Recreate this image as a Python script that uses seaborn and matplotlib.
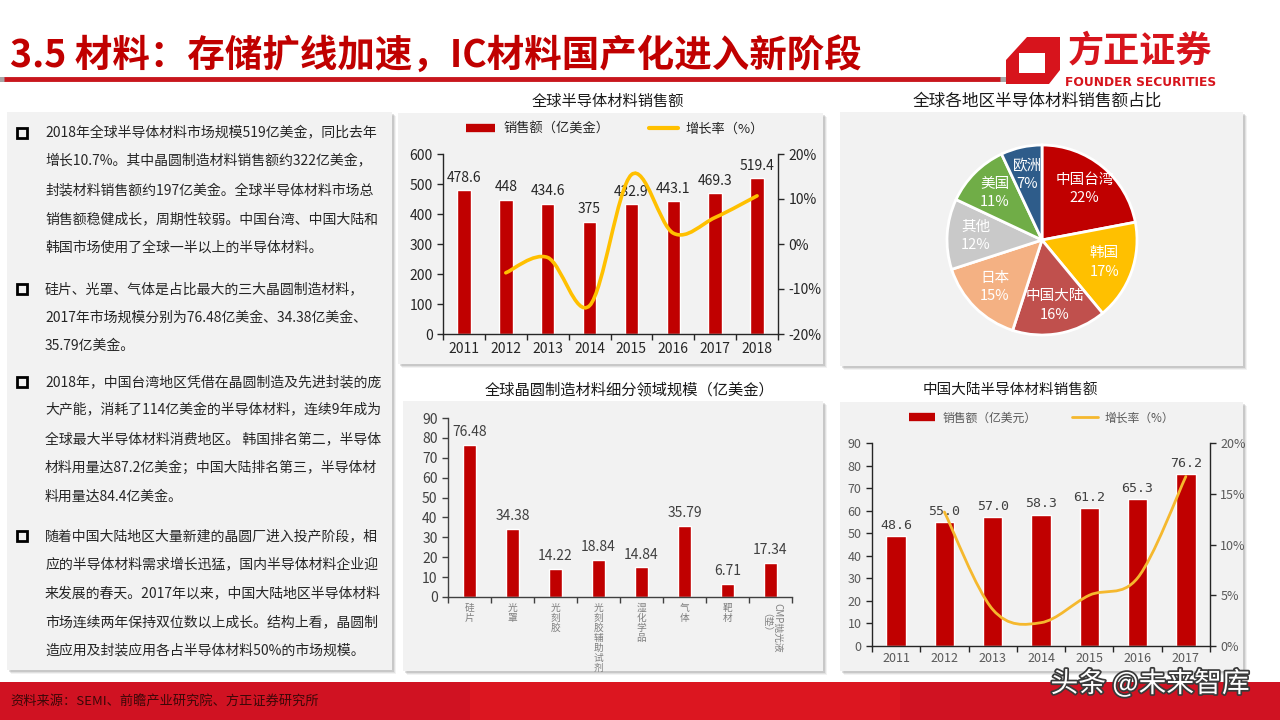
import numpy as np
import pandas as pd
import seaborn as sns
import matplotlib.pyplot as plt
import matplotlib.patheffects as pe
from matplotlib.patches import Rectangle, Polygon, PathPatch
from matplotlib.path import Path
from matplotlib.lines import Line2D
from matplotlib.ticker import FuncFormatter

# ---- data ----
years_global = ['2011', '2012', '2013', '2014', '2015', '2016', '2017', '2018']
sales_global = [478.6, 448, 434.6, 375, 432.9, 443.1, 469.3, 519.4]
growth_global = [-6.4, -3.0, -13.7, 15.4, 2.4, 5.9, 10.7]   # 2012-2018, %

regions = ['中国台湾', '韩国', '中国大陆', '日本', '其他', '美国', '欧洲']
region_share = [22, 17, 16, 15, 12, 11, 7]

wafer_items = ['硅片', '光罩', '光刻胶', '光刻胶辅助试剂', '湿化学品', '气体', '靶材', 'CMP抛光液（垫）']
wafer_values = [76.48, 34.38, 14.22, 18.84, 14.84, 35.79, 6.71, 17.34]

years_cn = ['2011', '2012', '2013', '2014', '2015', '2016', '2017']
sales_cn = [48.6, 55.0, 57.0, 58.3, 61.2, 65.3, 76.2]
growth_cn = [13.2, 3.6, 2.3, 5.0, 6.7, 16.7]   # 2012-2017, %

bullets = [
    ['2018年全球半导体材料市场规模519亿美金，同比去年',
     '增长10.7%。其中晶圆制造材料销售额约322亿美金，',
     '封装材料销售额约197亿美金。全球半导体材料市场总',
     '销售额稳健成长，周期性较弱。中国台湾、中国大陆和',
     '韩国市场使用了全球一半以上的半导体材料。'],
    ['硅片、光罩、气体是占比最大的三大晶圆制造材料，',
     '2017年市场规模分别为76.48亿美金、34.38亿美金、',
     '35.79亿美金。'],
    ['2018年，中国台湾地区凭借在晶圆制造及先进封装的庞',
     '大产能，消耗了114亿美金的半导体材料，连续9年成为',
     '全球最大半导体材料消费地区。 韩国排名第二，半导体',
     '材料用量达87.2亿美金；中国大陆排名第三，半导体材',
     '料用量达84.4亿美金。'],
    ['随着中国大陆地区大量新建的晶圆厂进入投产阶段，相',
     '应的半导体材料需求增长迅猛，国内半导体材料企业迎',
     '来发展的春天。2017年以来，中国大陆地区半导体材料',
     '市场连续两年保持双位数以上成长。结构上看，晶圆制',
     '造应用及封装应用各占半导体材料50%的市场规模。'],
]

slide_title = '3.5 材料：存储扩线加速，IC材料国产化进入新阶段'
source_note = '资料来源：SEMI、前瞻产业研究院、方正证券研究所'

RED = '#C00000'
YELLOW = '#FFC000'
region_colors = ['#C00000', '#FFC000', '#C0504D', '#F4B183', '#C9C9C9', '#70AD47', '#2E5C8A']

sns.set_theme(style='ticks')
plt.rcParams['font.family'] = ['Noto Sans CJK SC', 'DejaVu Sans']
plt.rcParams['axes.unicode_minus'] = False

W, H = 1280, 720
fig = plt.figure(figsize=(12.8, 7.2), dpi=100)
fig.patch.set_facecolor('white')

# background layer in pixel coordinates (y down)
bg = fig.add_axes([0, 0, 1, 1])
bg.set_xlim(0, W)
bg.set_ylim(H, 0)
bg.axis('off')


def panel(x0, y0, x1, y1):
    for off, a in [(4, 0.08), (3, 0.12), (2, 0.18)]:
        bg.add_patch(Rectangle((x0 + off, y0 + off), x1 - x0, y1 - y0,
                               color='#606060', alpha=a, lw=0))
    bg.add_patch(Rectangle((x0, y0), x1 - x0, y1 - y0, color='#F2F2F2', lw=0))


def ax_at(x0, y0, x1, y1, z=2):
    ax = fig.add_axes([x0 / W, 1 - y1 / H, (x1 - x0) / W, (y1 - y0) / H])
    ax.set_zorder(z)
    ax.patch.set_visible(False)
    return ax


def smooth_curve(ax, xs, ys, **kw):
    # Excel-style smoothed line (Catmull-Rom as cubic Bezier)
    pts = np.column_stack([xs, ys]).astype(float)
    n = len(pts)
    verts, codes = [pts[0]], [Path.MOVETO]
    for i in range(n - 1):
        p0, p1 = pts[max(i - 1, 0)], pts[i]
        p2, p3 = pts[i + 1], pts[min(i + 2, n - 1)]
        verts += [p1 + (p2 - p0) / 6, p2 - (p3 - p1) / 6, p2]
        codes += [Path.CURVE4] * 3
    ax.add_patch(PathPatch(Path(verts, codes), fill=False, **kw))


def style_cat_axis(ax, n, color):
    ax.set_xlim(-0.5, n - 0.5)
    ax.set_xticks(np.arange(-0.5, n), minor=True)
    ax.tick_params(axis='x', which='major', length=0, pad=6)
    ax.tick_params(axis='x', which='minor', length=4, width=1, direction='out', color=color)


def spines(ax, keep, color):
    for s in ['top', 'bottom', 'left', 'right']:
        ax.spines[s].set_visible(s in keep)
        ax.spines[s].set_color(color)
        ax.spines[s].set_linewidth(1)


# ---- header ----
bg.text(10, 55, slide_title, fontsize=27, fontweight='bold', color=RED, va='center', ha='left')
bg.plot([4, 1000], [79, 79], color='#C8161D', lw=3.5, solid_capstyle='butt')
bg.add_patch(Rectangle((0, 77), 5, 5, color='#A6A6A6', lw=0))
bg.add_patch(Rectangle((1000, 77), 13, 5, color='#A6A6A6', lw=0))
bg.add_patch(Polygon([(1027, 37), (1060, 37), (1060, 70), (1049, 84), (1006, 84), (1006, 60)],
                     closed=True, color='#D7141C', lw=0))
bg.add_patch(Polygon([(1019, 53), (1045, 53), (1045, 73), (1019, 73)], closed=True, color='white', lw=0))
bg.text(1140, 51, '方正证券', fontsize=26, fontweight='bold', color='#D7141C', ha='center', va='center')
bg.text(1141, 83, 'FOUNDER SECURITIES', fontsize=8.8, fontweight='bold', color='#D7141C',
        ha='center', va='center', family=['Liberation Sans Narrow', 'DejaVu Sans'])

# ---- left text box ----
panel(7, 112, 392, 670)
line_gap = 28.7
for para, y0 in zip(bullets, [133, 289, 382, 536]):
    bg.add_patch(Rectangle((17, y0 - 5), 10, 10, fill=False, ec='black', lw=2))
    for k, line in enumerate(para):
        bg.text(45, y0 + k * line_gap, line, fontsize=10, color='#262626', va='center', ha='left')

# ---- chart panels ----
panel(398, 113, 823, 364)
panel(840, 112, 1243, 366)
panel(403, 401, 823, 671)
panel(840, 402, 1243, 671)

bg.text(608, 101, '全球半导体材料销售额', fontsize=11, ha='center', va='center', color='#1A1A1A')
bg.text(1037, 101, '全球各地区半导体材料销售额占比', fontsize=12, ha='center', va='center', color='#1A1A1A')
bg.text(630, 390, '全球晶圆制造材料细分领域规模（亿美金）', fontsize=11, ha='center', va='center', color='#1A1A1A')
bg.text(1010, 390, '中国大陆半导体材料销售额', fontsize=10.5, ha='center', va='center', color='#1A1A1A')

# ---- chart 1: global sales + growth ----
ax1 = ax_at(443, 154, 778, 334)
df_g = pd.DataFrame({'year': years_global, 'sales': sales_global})
sns.barplot(data=df_g, x='year', y='sales', color=RED, saturation=1, width=0.32,
            errorbar=None, ax=ax1)
ax1.bar_label(ax1.containers[0], labels=[f'{v:g}' for v in sales_global],
              padding=4, fontsize=10, color='#262626')
ax1.set(xlabel='', ylabel='', ylim=(0, 600))
ax1.set_yticks(range(0, 601, 100))
style_cat_axis(ax1, len(years_global), '#262626')
ax1.tick_params(axis='y', length=4, width=1, direction='out', labelsize=10, colors='#262626')
ax1.tick_params(axis='x', labelsize=10, labelcolor='#262626')
spines(ax1, ['left', 'bottom'], '#262626')

ax1b = ax1.twinx()
ax1b.set_zorder(3)
ax1b.set_ylim(-20, 20)
ax1b.set_yticks(range(-20, 21, 10))
ax1b.yaxis.set_major_formatter(FuncFormatter(lambda v, _: f'{v:.0f}%'))
ax1b.tick_params(axis='y', length=4, width=1, direction='out', labelsize=10, colors='#262626')
spines(ax1b, ['right'], '#262626')
smooth_curve(ax1b, range(1, len(years_global)), growth_global, color=YELLOW, lw=2.6, capstyle='round')
ax1b.legend([Line2D([], [], color=RED, lw=6, solid_capstyle='butt'), Line2D([], [], color=YELLOW, lw=3)],
            ['销售额（亿美金）', '增长率（%）'], loc='center', bbox_to_anchor=(615, 129),
            bbox_transform=bg.transData, ncol=2, frameon=False, fontsize=9.5,
            handlelength=2.2, columnspacing=3, handletextpad=0.6)

# ---- chart 2: regional share pie ----
pax = ax_at(947, 145, 1137, 335)
pax.pie(region_share, colors=region_colors, startangle=90, counterclock=False,
        labels=[f'{r}\n{s}%' for r, s in zip(regions, region_share)], labeldistance=0.7,
        wedgeprops=dict(edgecolor='white', linewidth=2),
        textprops=dict(color='white', fontsize=10.5, ha='center', va='center', linespacing=1.4))
pax.set_xlim(-1, 1)
pax.set_ylim(-1, 1)
pax.set_aspect('equal')

# ---- chart 3: wafer material segments ----
ax3 = ax_at(448, 418, 792, 597)
df_w = pd.DataFrame({'item': wafer_items, 'value': wafer_values})
sns.barplot(data=df_w, x='item', y='value', color=RED, saturation=1, width=0.31,
            errorbar=None, ax=ax3)
ax3.bar_label(ax3.containers[0], labels=[f'{v:.2f}' for v in wafer_values],
              padding=4, fontsize=10, color='#404040')
ax3.set(xlabel='', ylabel='', ylim=(0, 90))
ax3.set_yticks(range(0, 91, 10))
style_cat_axis(ax3, len(wafer_items), '#404040')
ax3.set_xticks(range(len(wafer_items)))
# stacked (vertical) category names; the last one is rotated text in two columns
ax3.set_xticklabels(['\n'.join(t) for t in wafer_items[:-1]] + [''],
                    fontsize=7, color='#808080', linespacing=1.0, va='top')
cmp_main, cmp_sub = wafer_items[-1][:-3], wafer_items[-1][-3:]
for txt, dx in [(cmp_main, 7), (cmp_sub, -9)]:
    ax3.annotate(txt, xy=(len(wafer_items) - 1, 0), xycoords=('data', 'axes fraction'),
                 xytext=(dx, -31), textcoords='offset pixels', rotation=-90,
                 ha='center', va='center', fontsize=7, color='#808080')
ax3.tick_params(axis='x', which='major', pad=4)
ax3.tick_params(axis='y', length=4, width=1, direction='out', labelsize=10, colors='#404040')
spines(ax3, ['left', 'bottom'], '#404040')

# ---- chart 4: mainland China sales + growth ----
ax4 = ax_at(872, 443, 1210, 646)
df_c = pd.DataFrame({'year': years_cn, 'sales': sales_cn})
sns.barplot(data=df_c, x='year', y='sales', color=RED, saturation=1, width=0.4,
            errorbar=None, ax=ax4)
ax4.bar_label(ax4.containers[0], labels=[f'{v:.1f}' for v in sales_cn], padding=3,
              fontsize=9.5, color='#404040', family=['DejaVu Sans Mono'])
ax4.set(xlabel='', ylabel='', ylim=(0, 90))
ax4.set_yticks(range(0, 91, 10))
style_cat_axis(ax4, len(years_cn), '#262626')
ax4.tick_params(axis='x', labelsize=9, labelcolor='#595959', pad=4)
ax4.tick_params(axis='y', length=4, width=1, direction='out', labelsize=9, colors='#262626',
                labelcolor='#595959')
spines(ax4, ['left', 'bottom'], '#262626')

ax4b = ax4.twinx()
ax4b.set_zorder(3)
ax4b.set_ylim(0, 20)
ax4b.set_yticks(range(0, 21, 5))
ax4b.yaxis.set_major_formatter(FuncFormatter(lambda v, _: f'{v:.0f}%'))
ax4b.tick_params(axis='y', length=4, width=1, direction='out', labelsize=9, colors='#262626',
                 labelcolor='#595959')
spines(ax4b, ['right'], '#262626')
smooth_curve(ax4b, range(1, len(years_cn)), growth_cn, color='#F5B82E', lw=2, capstyle='round')
ax4b.legend([Line2D([], [], color=RED, lw=6, solid_capstyle='butt'), Line2D([], [], color='#F5B82E', lw=2)],
            ['销售额（亿美元）', '增长率（%）'], loc='center', bbox_to_anchor=(1042, 418),
            bbox_transform=bg.transData, ncol=2, frameon=False, fontsize=8.5,
            labelcolor='#595959', handlelength=2.2, columnspacing=3, handletextpad=0.6)

# ---- footer ----
bg.add_patch(Rectangle((0, 682), W, 38, color='#D01222', lw=0, zorder=1))
bg.add_patch(Rectangle((470, 682), 430, 38, color='#DC1620', lw=0, zorder=1))
bg.text(10, 701, source_note, fontsize=9.5, color='#3B0808', style='italic', va='center', ha='left', zorder=2)
bg.text(1150, 684, '头条 @未来智库', fontsize=20, color='white', ha='center', va='center', zorder=2,
        path_effects=[pe.withStroke(linewidth=2.5, foreground='#3A3A3A')])

fig.savefig('out.png', dpi=100)
